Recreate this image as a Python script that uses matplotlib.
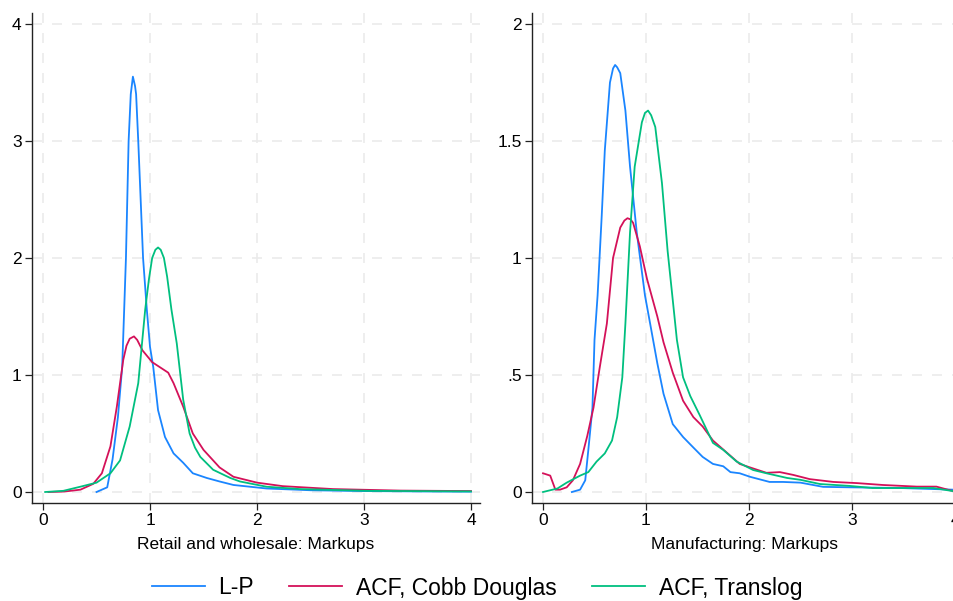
import matplotlib
matplotlib.use("Agg")
import matplotlib.pyplot as plt

plt.rcParams['font.family'] = ['Liberation Sans', 'DejaVu Sans']

# ---------------- data ----------------
series_names = ["L-P", "ACF, Cobb Douglas", "ACF, Translog"]
colors = ["#1a85ff", "#d41159", "#00bf7f"]

# Retail and wholesale
ret_lp_x = [0.50, 0.60, 0.65, 0.70, 0.74, 0.76, 0.775, 0.80, 0.82, 0.84, 0.86, 0.87, 0.89, 0.935, 0.97, 1.00, 1.03,
            1.075, 1.14, 1.22, 1.31, 1.40, 1.53, 1.65, 1.78, 2.09, 2.5, 3.0, 3.5, 4.0]
ret_lp_y = [0.0, 0.04, 0.28, 0.64, 1.07, 1.60, 2.0, 3.0, 3.40, 3.55, 3.47, 3.40, 3.0, 2.0, 1.56, 1.24, 1.07,
            0.70, 0.47, 0.33, 0.25, 0.16, 0.12, 0.09, 0.06, 0.03, 0.015, 0.008, 0.005, 0.003]

ret_cd_x = [0.05, 0.20, 0.35, 0.47, 0.55, 0.63, 0.69, 0.75, 0.78, 0.81, 0.85, 0.88, 0.93, 1.02, 1.12, 1.17, 1.22,
            1.31, 1.40, 1.50, 1.65, 1.78, 2.0, 2.24, 2.71, 3.34, 4.0]
ret_cd_y = [0.0, 0.004, 0.02, 0.07, 0.16, 0.39, 0.73, 1.13, 1.25, 1.31, 1.33, 1.30, 1.21, 1.11, 1.05, 1.02, 0.93,
            0.73, 0.50, 0.36, 0.21, 0.13, 0.08, 0.05, 0.025, 0.012, 0.008]

ret_tl_x = [0.02, 0.19, 0.37, 0.50, 0.63, 0.72, 0.81, 0.89, 0.955, 0.99, 1.02, 1.05, 1.075, 1.10, 1.13, 1.16,
            1.20, 1.25, 1.31, 1.37, 1.42, 1.47, 1.59, 1.75, 1.84, 2.09, 2.40, 3.03, 4.0]
ret_tl_y = [0.0, 0.01, 0.05, 0.08, 0.16, 0.27, 0.56, 0.93, 1.56, 1.82, 2.0, 2.07, 2.09, 2.07, 2.0, 1.84,
            1.56, 1.27, 0.79, 0.50, 0.38, 0.30, 0.19, 0.12, 0.09, 0.045, 0.025, 0.01, 0.005]

# Manufacturing
man_lp_x = [0.28, 0.36, 0.41, 0.44, 0.48, 0.50, 0.53, 0.57, 0.60, 0.65, 0.68, 0.70, 0.72, 0.75, 0.80, 0.845, 0.91,
            0.99, 1.04, 1.11, 1.17, 1.26, 1.36, 1.46, 1.55, 1.65, 1.75, 1.82, 1.91, 2.01, 2.20, 2.33, 2.50,
            2.72, 2.98, 3.47, 3.98]
man_lp_y = [0.0, 0.01, 0.05, 0.18, 0.36, 0.65, 0.84, 1.18, 1.46, 1.75, 1.81, 1.825, 1.815, 1.79, 1.63, 1.39, 1.11,
            0.84, 0.72, 0.55, 0.42, 0.29, 0.235, 0.19, 0.15, 0.12, 0.11, 0.085, 0.08, 0.065, 0.043, 0.043, 0.04,
            0.022, 0.02, 0.017, 0.01]

man_cd_x = [0.0, 0.07, 0.12, 0.165, 0.23, 0.29, 0.36, 0.43, 0.49, 0.55, 0.62, 0.68, 0.75, 0.79, 0.82, 0.85,
            0.875, 0.94, 1.01, 1.11, 1.17, 1.26, 1.36, 1.46, 1.55, 1.65, 1.78, 1.91, 2.01, 2.17, 2.30, 2.43,
            2.59, 2.82, 3.05, 3.30, 3.63, 3.82, 3.98]
man_cd_y = [0.08, 0.07, 0.01, 0.01, 0.02, 0.05, 0.12, 0.24, 0.36, 0.53, 0.72, 1.0, 1.13, 1.16, 1.17, 1.165,
            1.15, 1.05, 0.91, 0.75, 0.64, 0.51, 0.39, 0.32, 0.28, 0.22, 0.17, 0.12, 0.105, 0.082, 0.085, 0.073,
            0.055, 0.043, 0.038, 0.03, 0.023, 0.023, 0.004]

man_tl_x = [0.0, 0.14, 0.23, 0.36, 0.44, 0.52, 0.60, 0.67, 0.72, 0.77, 0.80, 0.845, 0.89, 0.96, 0.99, 1.02,
            1.05, 1.09, 1.155, 1.21, 1.26, 1.30, 1.36, 1.43, 1.52, 1.65, 1.75, 1.88, 2.04, 2.17, 2.37, 2.50,
            2.69, 2.98, 3.20, 3.53, 3.79, 3.98]
man_tl_y = [0.0, 0.015, 0.04, 0.07, 0.085, 0.13, 0.165, 0.22, 0.32, 0.49, 0.72, 1.11, 1.39, 1.58, 1.62, 1.63,
            1.61, 1.56, 1.32, 1.03, 0.82, 0.65, 0.49, 0.41, 0.33, 0.21, 0.18, 0.13, 0.094, 0.08, 0.06, 0.052,
            0.034, 0.026, 0.017, 0.017, 0.017, 0.004]

xticks = [0, 1, 2, 3, 4]
xtick_labels = ["0", "1", "2", "3", "4"]
left_yticks = [0, 1, 2, 3, 4]
left_ytick_labels = ["0", "1", "2", "3", "4"]
right_yticks = [0, 0.5, 1, 1.5, 2]
right_ytick_labels = ["0", ".5", "1", "1.5", "2"]
left_xlabel = "Retail and wholesale: Markups"
right_xlabel = "Manufacturing: Markups"

# ---------------- figure ----------------
W, H = 954, 601
fig = plt.figure(figsize=(W / 100, H / 100), dpi=100)

def px_axes(x0, x1, ytop, ybot):
    return fig.add_axes([x0 / W, (H - ybot) / H, (x1 - x0) / W, (ybot - ytop) / H])

axL = px_axes(32, 480, 13, 503)
axR = px_axes(532, 957, 13, 503)

def style(ax, xlim, ylim, yticks, ylabels, xlabel):
    ax.set_xlim(*xlim)
    ax.set_ylim(*ylim)
    ax.set_xticks(xticks)
    ax.set_xticklabels(xtick_labels)
    ax.set_yticks(yticks)
    ax.set_yticklabels(ylabels)
    for s in ["top", "right"]:
        ax.spines[s].set_visible(False)
    for s in ["left", "bottom"]:
        ax.spines[s].set_color("#222222")
        ax.spines[s].set_linewidth(1.0)
    ax.tick_params(axis="both", direction="out", length=5, width=0.9, color="#222222",
                   labelsize=12.5, pad=2.5)
    ax.grid(True, color="#ebebeb", linestyle=(0, (6, 6)), linewidth=1.2)
    ax.set_axisbelow(True)
    ax.set_xlabel(xlabel, fontsize=12.5, labelpad=6)

lw = 1.3
axL.plot(ret_lp_x, ret_lp_y, color=colors[0], lw=lw, label=series_names[0])
axL.plot(ret_cd_x, ret_cd_y, color=colors[1], lw=lw, label=series_names[1])
axL.plot(ret_tl_x, ret_tl_y, color=colors[2], lw=lw, label=series_names[2])
style(axL, (-0.103, 4.084), (-0.094, 4.094), left_yticks, left_ytick_labels, left_xlabel)

axR.plot(man_lp_x, man_lp_y, color=colors[0], lw=lw)
axR.plot(man_cd_x, man_cd_y, color=colors[1], lw=lw)
axR.plot(man_tl_x, man_tl_y, color=colors[2], lw=lw)
style(axR, (-0.107, 4.02), (-0.047, 2.047), right_yticks, right_ytick_labels, right_xlabel)

handles, labels = axL.get_legend_handles_labels()
fig.legend(handles, labels, loc="center", bbox_to_anchor=(0.5, (H - 588) / H), ncol=3,
           frameon=False, fontsize=16.5, handlelength=2.3, handletextpad=0.6, columnspacing=1.55)

fig.savefig("out.png", dpi=100)
